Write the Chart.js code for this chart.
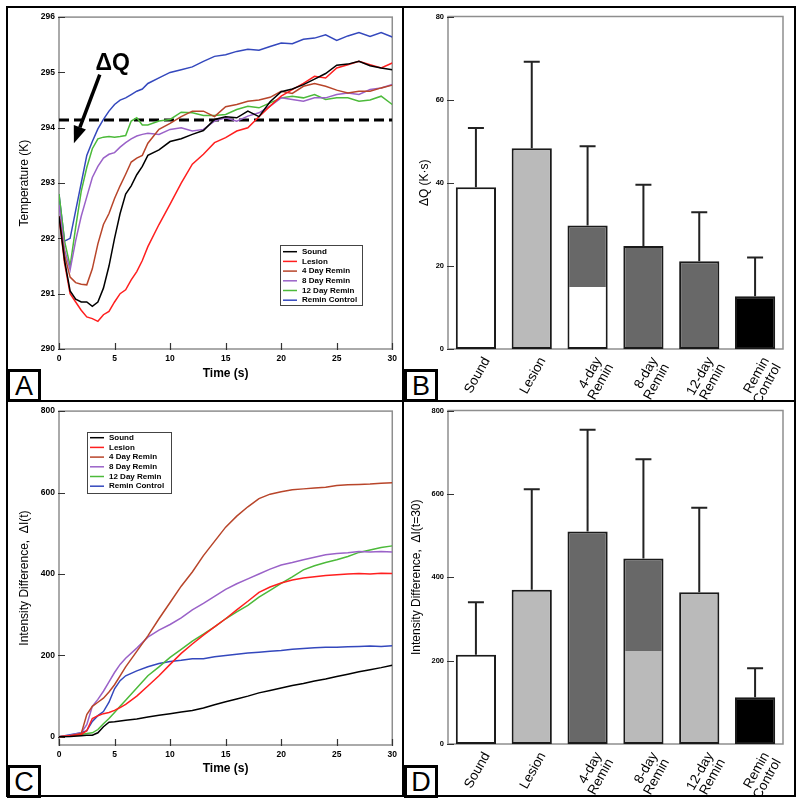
<!doctype html>
<html lang="en">
<head>
<meta charset="utf-8">
<title>Temperature and intensity panels</title>
<style>
  * { margin: 0; padding: 0; }
  body { background: #fff; width: 800px; height: 805px; position: relative; overflow: hidden;
         font-family: "Liberation Sans", Arial, sans-serif; }
  canvas { position: absolute; }
  .frame { position: absolute; left: 6px; top: 6px; width: 790px; height: 791px; border: 2px solid #000; box-sizing: border-box; }
  .vdiv { position: absolute; left: 402px; top: 6px; width: 2px; height: 791px; background: #000; }
  .hdiv { position: absolute; left: 6px; top: 400px; width: 790px; height: 2px; background: #000; }
  .tag { position: absolute; width: 34px; height: 33px; border: 3px solid #000; box-sizing: border-box; background: #fff;
         font-size: 27px; line-height: 28px; text-align: center; color: #000; }
</style>
</head>
<body>
<canvas id="chartA" width="394" height="392" style="left:8px;top:8px"></canvas>
<canvas id="chartB" width="390" height="392" style="left:404px;top:8px"></canvas>
<canvas id="chartC" width="394" height="394" style="left:8px;top:402px"></canvas>
<canvas id="chartD" width="390" height="394" style="left:404px;top:402px"></canvas>
<div class="frame"></div>
<div class="vdiv"></div>
<div class="hdiv"></div>
<div class="tag" style="left:7px;top:369px">A</div>
<div class="tag" style="left:404px;top:369px">B</div>
<div class="tag" style="left:7px;top:765px">C</div>
<div class="tag" style="left:404px;top:765px">D</div>

<script src="https://cdn.jsdelivr.net/npm/chart.js"></script>
<script>
// ---- data ----
const seriesNames = ['Sound', 'Lesion', '4 Day Remin', '8 Day Remin', '12 Day Remin', 'Remin Control'];

// panel A: temperature (K) vs time (s)
const tA = [0, 0.5, 1, 1.5, 2, 2.5, 3, 3.5, 4, 4.5, 5, 5.5, 6, 6.5, 7, 7.5, 8,
  9, 10, 11, 12, 13, 14, 15, 16, 17, 18, 19, 20, 21, 22, 23, 24, 25, 26, 27, 28, 29, 30];
const soundA = [292.4, 291.6, 291.05, 290.9, 290.85, 290.85, 290.77, 290.85, 291.1, 291.5, 292.0, 292.45, 292.8, 292.95, 293.15, 293.3, 293.5,
  293.6, 293.75, 293.8, 293.88, 293.95, 294.15, 294.2, 294.18, 294.3, 294.2, 294.47, 294.65, 294.7, 294.78, 294.88, 294.98, 295.13, 295.15, 295.2, 295.12, 295.08, 295.05];
const lesionA = [292.4, 291.55, 291.0, 290.85, 290.7, 290.58, 290.55, 290.5, 290.62, 290.68, 290.85, 291.0, 291.07, 291.25, 291.4, 291.6, 291.85,
  292.25, 292.62, 293.0, 293.34, 293.52, 293.73, 293.82, 293.94, 294.0, 294.2, 294.39, 294.57, 294.69, 294.8, 294.93, 294.9, 295.08, 295.14, 295.2, 295.14, 295.08, 295.17];
const remin4A = [292.4, 291.7, 291.3, 291.2, 291.17, 291.16, 291.45, 291.9, 292.25, 292.45, 292.72, 292.95, 293.16, 293.38, 293.45, 293.5, 293.72,
  293.97, 294.08, 294.2, 294.3, 294.3, 294.2, 294.38, 294.42, 294.48, 294.5, 294.55, 294.66, 294.62, 294.75, 294.8, 294.75, 294.68, 294.63, 294.66, 294.66, 294.72, 294.77];
const remin8A = [292.6, 291.8, 291.43, 291.96, 292.4, 292.75, 293.1, 293.3, 293.45, 293.52, 293.55, 293.65, 293.73, 293.8, 293.85, 293.88, 293.9,
  293.88, 293.97, 294.0, 293.94, 293.97, 294.12, 294.18, 294.12, 294.21, 294.27, 294.39, 294.54, 294.51, 294.48, 294.54, 294.54, 294.6, 294.63, 294.6, 294.69, 294.72, 294.78];
const remin12A = [292.8, 291.95, 291.5, 292.2, 292.85, 293.28, 293.62, 293.8, 293.83, 293.84, 293.83, 293.84, 293.86, 294.12, 294.18, 294.05, 294.05,
  294.12, 294.15, 294.28, 294.27, 294.22, 294.22, 294.24, 294.33, 294.39, 294.36, 294.45, 294.54, 294.57, 294.54, 294.6, 294.51, 294.54, 294.54, 294.48, 294.5, 294.57, 294.42];
const controlA = [292.8, 291.95, 292.0, 292.5, 293.0, 293.5, 293.75, 293.98, 294.15, 294.3, 294.42, 294.5, 294.54, 294.6, 294.66, 294.7, 294.8,
  294.9, 295.0, 295.05, 295.1, 295.2, 295.29, 295.32, 295.38, 295.42, 295.4, 295.47, 295.53, 295.52, 295.6, 295.62, 295.68, 295.58, 295.66, 295.72, 295.65, 295.72, 295.64];
const thresholdA = 294.14;
const arrowFrom = [3.67, 294.96];
const arrowTo = [1.34, 293.72];
const arrowText = [4.84, 295.16];

// panel C: intensity difference vs time (s)
const tC = [0, 1, 2, 2.5, 3, 3.5, 4, 4.5, 5, 5.5, 6,
  7, 8, 9, 10, 11, 12, 13, 14, 15, 16, 17, 18, 19, 20, 21, 22, 23, 24, 25, 26, 27, 28, 29, 30];
const soundC = [0, 1, 3, 4, 4, 10, 25, 36, 37, 39, 41,
  44, 49, 53, 57, 61, 65, 71, 79, 86, 93, 100, 108, 114, 120, 126, 131, 137, 142, 148, 154, 160, 165, 170, 176];
const lesionC = [0, 3, 6, 15, 45, 52, 57, 60, 65, 72, 80,
  100, 125, 150, 178, 205, 228, 250, 270, 290, 312, 333, 355, 368, 378, 385, 390, 393, 396, 398, 400, 401, 400, 402, 401];
const remin4C = [0, 3, 8, 55, 75, 85, 95, 110, 128, 150, 172,
  210, 248, 290, 330, 370, 405, 445, 480, 515, 542, 565, 585, 596, 602, 607, 609, 611, 613, 617, 619, 620, 621, 623, 624];
const remin8C = [0, 4, 10, 30, 75, 92, 112, 135, 158, 178, 193,
  218, 245, 262, 276, 292, 312, 328, 345, 362, 376, 388, 400, 412, 422, 428, 435, 441, 447, 450, 452, 455, 454, 455, 454];
const remin12C = [0, 3, 6, 8, 10, 18, 32, 45, 60, 75, 90,
  120, 150, 172, 195, 215, 235, 252, 270, 290, 307, 323, 343, 360, 377, 393, 410, 420, 428, 435, 443, 453, 459, 465, 469];
const controlC = [0, 5, 10, 15, 38, 52, 62, 85, 118, 138, 150,
  162, 172, 180, 185, 188, 192, 192, 197, 200, 203, 206, 208, 210, 212, 215, 217, 219, 220, 220, 221, 222, 223, 222, 224];
const ticksC = [0, 200, 400, 600, 800];

// panels B and D: bar groups
const barLabels = [['Sound'], ['Lesion'], ['4-day', 'Remin'], ['8-day', 'Remin'], ['12-day', 'Remin'], ['Remin', 'Control']];
const deltaQ = [38.9, 48.3, 29.7, 24.8, 21.1, 12.7];
const deltaQErr = [53.2, 69.1, 48.8, 39.5, 32.9, 22.0];
const deltaQLower = [null, null, 15.0, null, null, null];
const deltaI30 = [214, 370, 510, 445, 364, 112];
const deltaI30Err = [340, 611, 754, 683, 567, 182];
const deltaI30Lower = [null, null, null, 224, null, null];

// ---- styles ----
const lineColors = ['#000000', '#ff1f1f', '#b8452a', '#9a62c8', '#4cba3a', '#3448bd'];
const WHITE = '#ffffff', LIGHT = '#bababa', DARK = '#686868', BLACK = '#000000';
const fillB = [WHITE, LIGHT, DARK, DARK, DARK, BLACK];
const lowFillB = [null, null, WHITE, null, null, null];
const fillD = [WHITE, LIGHT, DARK, DARK, LIGHT, BLACK];
const lowFillD = [null, null, null, LIGHT, null, null];
const FAM = '"Liberation Sans", Arial, sans-serif';
Chart.defaults.font.family = FAM;
Chart.defaults.color = '#000';

const pts = (t, v) => t.map((x, i) => ({ x: x, y: v[i] }));

// frame box + inward tick marks
const framePlugin = {
  id: 'frameTicks',
  beforeDatasetsDraw(chart) {
    const { ctx, chartArea: a, scales } = chart;
    ctx.save();
    ctx.strokeStyle = '#8e8e8e';
    ctx.lineWidth = 1.5;
    ctx.strokeRect(a.left, a.top, a.right - a.left, a.bottom - a.top);
    ctx.strokeStyle = '#333';
    ctx.lineWidth = 1.2;
    ctx.beginPath();
    scales.y.ticks.forEach(t => {
      const p = Math.round(scales.y.getPixelForValue(t.value)) + 0.5;
      ctx.moveTo(a.left - 1, p); ctx.lineTo(a.left + 6, p);
    });
    if (scales.x.type === 'linear') {
      scales.x.ticks.forEach(t => {
        const p = Math.round(scales.x.getPixelForValue(t.value)) + 0.5;
        ctx.moveTo(p, a.bottom + 1); ctx.lineTo(p, a.bottom - 6);
      });
    }
    ctx.stroke();
    ctx.restore();
  }
};

function boxLegend(box) {
  return {
    id: 'boxLegend',
    afterDraw(chart) {
      const ctx = chart.ctx;
      ctx.save();
      ctx.fillStyle = '#fff';
      ctx.fillRect(box.x, box.y, box.w, box.h);
      ctx.strokeStyle = '#444';
      ctx.lineWidth = 1;
      ctx.strokeRect(box.x + 0.5, box.y + 0.5, box.w, box.h);
      ctx.font = 'bold 8px ' + FAM;
      ctx.textBaseline = 'middle';
      seriesNames.forEach((name, i) => {
        const y = box.y + box.first + i * box.row;
        ctx.strokeStyle = lineColors[i];
        ctx.lineWidth = 1.5;
        ctx.beginPath();
        ctx.moveTo(box.x + 3, y); ctx.lineTo(box.x + 17, y);
        ctx.stroke();
        ctx.fillStyle = '#000';
        ctx.fillText(name, box.x + 22, y);
      });
      ctx.restore();
    }
  };
}

const arrowPlugin = {
  id: 'arrowQ',
  afterDatasetsDraw(chart) {
    const { ctx, scales: { x, y } } = chart;
    const x0 = x.getPixelForValue(arrowFrom[0]), y0 = y.getPixelForValue(arrowFrom[1]);
    const x1 = x.getPixelForValue(arrowTo[0]), y1 = y.getPixelForValue(arrowTo[1]);
    const ang = Math.atan2(y1 - y0, x1 - x0);
    const head = 17, half = 6.5;
    const bx = x1 - head * Math.cos(ang), by = y1 - head * Math.sin(ang);
    ctx.save();
    ctx.strokeStyle = '#000';
    ctx.fillStyle = '#000';
    ctx.lineWidth = 3.5;
    ctx.beginPath();
    ctx.moveTo(x0, y0); ctx.lineTo(bx, by);
    ctx.stroke();
    ctx.beginPath();
    ctx.moveTo(x1, y1);
    ctx.lineTo(bx + half * Math.sin(ang), by - half * Math.cos(ang));
    ctx.lineTo(bx - half * Math.sin(ang), by + half * Math.cos(ang));
    ctx.closePath();
    ctx.fill();
    ctx.font = 'bold 23px ' + FAM;
    ctx.textAlign = 'center';
    ctx.textBaseline = 'middle';
    ctx.fillText('\u0394Q', x.getPixelForValue(arrowText[0]), y.getPixelForValue(arrowText[1]));
    ctx.restore();
  }
};

function errorBars(tops) {
  return {
    id: 'errorBars',
    afterDatasetsDraw(chart) {
      const ctx = chart.ctx, ys = chart.scales.y;
      const bars = chart.getDatasetMeta(0).data;
      ctx.save();
      ctx.strokeStyle = '#222';
      ctx.lineWidth = 2;
      ctx.beginPath();
      bars.forEach((b, i) => {
        const yt = ys.getPixelForValue(tops[i]);
        ctx.moveTo(b.x, b.y); ctx.lineTo(b.x, yt);
        ctx.moveTo(b.x - 8, yt); ctx.lineTo(b.x + 8, yt);
      });
      ctx.stroke();
      ctx.restore();
    }
  };
}

function lineChart(id, t, series, yOpt, pad, titlePadX, extraSets, plugins) {
  const sets = series.map((v, i) => ({
    label: seriesNames[i], data: pts(t, v), borderColor: lineColors[i],
    borderWidth: 1.5, pointRadius: 0, tension: 0, fill: false
  }));
  return new Chart(document.getElementById(id), {
    type: 'line',
    data: { datasets: sets.concat(extraSets) },
    options: {
      responsive: false, animation: false, devicePixelRatio: 1,
      layout: { padding: pad },
      plugins: { legend: { display: false }, tooltip: { enabled: false } },
      scales: {
        x: {
          type: 'linear', min: 0, max: 30,
          grid: { display: false, drawTicks: false }, border: { display: false },
          ticks: { stepSize: 5, padding: 5, font: { size: 8.5, weight: 'bold' }, color: '#000' },
          title: { display: true, text: 'Time (s)', font: { size: 12, weight: 'bold' }, padding: { top: 0, bottom: titlePadX } },
          afterFit: s => { s.height = 51; }
        },
        y: Object.assign({
          grid: { display: false, drawTicks: false }, border: { display: false },
          afterFit: s => { s.width = 51; }
        }, yOpt)
      }
    },
    plugins: [framePlugin].concat(plugins)
  });
}

// ---- panel A ----
lineChart('chartA', tA, [soundA, lesionA, remin4A, remin8A, remin12A, controlA], {
  min: 290, max: 296,
  ticks: { stepSize: 1, padding: 4, font: { size: 8.5, weight: 'bold' }, color: '#000' },
  title: { display: true, text: 'Temperature (K)', font: { size: 12 }, padding: { top: 9.8, bottom: 0 } }
}, { top: 7, right: 8, left: 0, bottom: 0 }, 18.8, [{
  label: 'threshold', data: [{ x: 0, y: thresholdA }, { x: 30, y: thresholdA }],
  borderColor: '#000', borderWidth: 3, borderDash: [10, 5], pointRadius: 0
}], [arrowPlugin, boxLegend({ x: 272, y: 237, w: 82, h: 60, first: 6.7, row: 9.7 })]);

// ---- panel C ----
lineChart('chartC', tC, [soundC, lesionC, remin4C, remin8C, remin12C, controlC], {
  min: -20, max: 800,
  afterBuildTicks: s => { s.ticks = ticksC.map(v => ({ value: v })); },
  ticks: { padding: 4, font: { size: 8.5, weight: 'bold' }, color: '#000' },
  title: { display: true, text: 'Intensity Difference,  \u0394I(t)', font: { size: 12 }, padding: { top: 9.8, bottom: 0 } }
}, { top: 9, right: 8, left: 0, bottom: 0 }, 19.8, [],
  [boxLegend({ x: 79, y: 30, w: 84, h: 61, first: 5.7, row: 9.7 })]);

// ---- bar panels ----
function splitFill(values, lower, fills, lowFills) {
  return c => {
    const i = c.dataIndex;
    if (lower[i] == null) return fills[i];
    const ys = c.chart.scales.y;
    if (!ys || ys.bottom == null) return fills[i];
    const y0 = ys.getPixelForValue(0), y1 = ys.getPixelForValue(values[i]);
    const g = c.chart.ctx.createLinearGradient(0, y0, 0, y1);
    const f = lower[i] / values[i];
    g.addColorStop(0, lowFills[i]); g.addColorStop(f, lowFills[i]);
    g.addColorStop(f, fills[i]); g.addColorStop(1, fills[i]);
    return g;
  };
}

function barChart(id, values, lower, tops, fills, lowFills, yMax, yStep, yTitle, titlePad, pad, xHeight) {
  return new Chart(document.getElementById(id), {
    type: 'bar',
    data: {
      labels: barLabels,
      datasets: [{
        data: values,
        backgroundColor: splitFill(values, lower, fills, lowFills),
        borderColor: '#1a1a1a', borderWidth: 2, borderSkipped: false,
        barPercentage: 0.72, categoryPercentage: 1
      }]
    },
    options: {
      responsive: false, animation: false, devicePixelRatio: 1,
      layout: { padding: pad },
      plugins: { legend: { display: false }, tooltip: { enabled: false } },
      scales: {
        x: {
          grid: { display: false, drawTicks: false }, border: { display: false },
          ticks: { minRotation: 61, maxRotation: 61, padding: 6, labelOffset: 11, autoSkip: false,
                   font: { size: 13.5, lineHeight: 1.0 }, color: '#000' },
          afterFit: s => { s.height = xHeight; }
        },
        y: {
          min: 0, max: yMax,
          grid: { display: false, drawTicks: false }, border: { display: false },
          ticks: { stepSize: yStep, padding: 4, font: { size: 7.5, weight: 'bold' }, color: '#000' },
          title: { display: true, text: yTitle, font: { size: 12 }, padding: { top: titlePad, bottom: 0 } },
          afterFit: s => { s.width = 44; }
        }
      }
    },
    plugins: [framePlugin, errorBars(tops)]
  });
}

barChart('chartB', deltaQ, deltaQLower, deltaQErr, fillB, lowFillB, 80, 20,
  '\u0394Q (K\u00B7s)', 13.8, { top: 7, right: 11, left: 0, bottom: 0 }, 51);
barChart('chartD', deltaI30, deltaI30Lower, deltaI30Err, fillD, lowFillD, 800, 200,
  'Intensity Difference,  \u0394I(t=30)', 5.8, { top: 8, right: 11, left: 0, bottom: 0 }, 52);
</script>
</body>
</html>
